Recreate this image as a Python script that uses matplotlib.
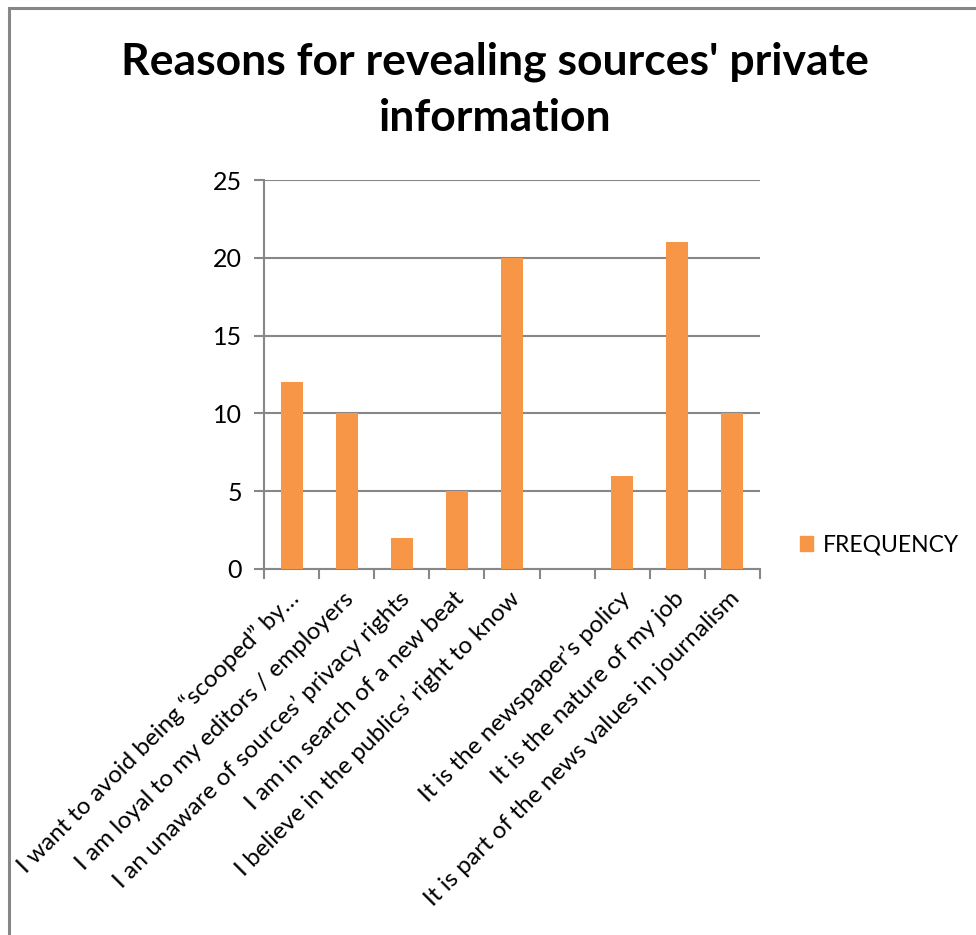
import matplotlib

matplotlib.use("Agg")
import matplotlib.pyplot as plt
from matplotlib.patches import Patch, Rectangle
from matplotlib.transforms import ScaledTranslation
import numpy as np

plt.rcParams["font.family"] = ["Lato", "DejaVu Sans"]

reasons = [
    "I want to avoid being \u201cscooped\u201d by\u2026",
    "I am loyal to my editors / employers",
    "I an unaware of sources\u2019 privacy rights",
    "I am in search of a new beat",
    "I believe in the publics\u2019 right to know",
    "",
    "It is the newspaper\u2019s policy",
    "It is the nature of my job",
    "It is part of the news values in journalism",
]
frequency = [12, 10, 2, 5, 20, 0, 6, 21, 10]
yticks = [0, 5, 10, 15, 20, 25]

BAR = "#F79646"
GRID = "#878787"

fig = plt.figure(figsize=(9.76, 9.35), dpi=100)
# outer chart frame
fig.patches.append(Rectangle((8.5 / 976, -0.05), 1.1, 1 - 8.5 / 935 + 0.05,
                             transform=fig.transFigure, fill=False,
                             edgecolor="#878787", lw=2.2))

ax = fig.add_axes([264 / 976, 1 - 569 / 935, (760 - 264) / 976, (569 - 180) / 935])
x = np.arange(len(reasons))
ax.bar(x, frequency, width=0.4, color=BAR, zorder=3)

ax.set_xlim(-0.5, len(reasons) - 0.5)
ax.set_ylim(0, 25)
ax.set_yticks(yticks)
ax.yaxis.grid(True, color=GRID, lw=1.5)
ax.set_axisbelow(True)
for side in ("top", "right"):
    ax.spines[side].set_visible(False)
for side in ("left", "bottom"):
    ax.spines[side].set_color(GRID)
    ax.spines[side].set_linewidth(1.5)

ax.tick_params(axis="y", length=7, width=1.5, color=GRID, labelsize=18, pad=9)
ax.set_xticks(np.arange(-0.5, len(reasons)), minor=True)
ax.tick_params(axis="x", which="minor", length=7, width=1.5, color=GRID)
ax.set_xticks(x)
ax.set_xticklabels(reasons, rotation=45, ha="right", va="center",
                   rotation_mode="anchor", fontsize=17.5)
ax.tick_params(axis="x", which="major", length=0, pad=19)
# nudge the slanted labels a little to the right
shift = ScaledTranslation(4 / 100, 0, fig.dpi_scale_trans)
for lbl in ax.get_xticklabels():
    lbl.set_transform(lbl.get_transform() + shift)

fig.text(0.507, 1 - 62 / 935, "Reasons for revealing sources' private",
         ha="center", va="center", fontsize=32, fontweight="bold")
fig.text(0.507, 1 - 118 / 935, "information",
         ha="center", va="center", fontsize=32, fontweight="bold")

fig.legend(handles=[Patch(color=BAR, label="FREQUENCY")],
           loc="center left", bbox_to_anchor=(779 / 976, 1 - 545 / 935),
           frameon=False, fontsize=16.5, handlelength=0.6, handleheight=0.6,
           handletextpad=0.4)

fig.savefig("out.png", dpi=100, facecolor="white")
